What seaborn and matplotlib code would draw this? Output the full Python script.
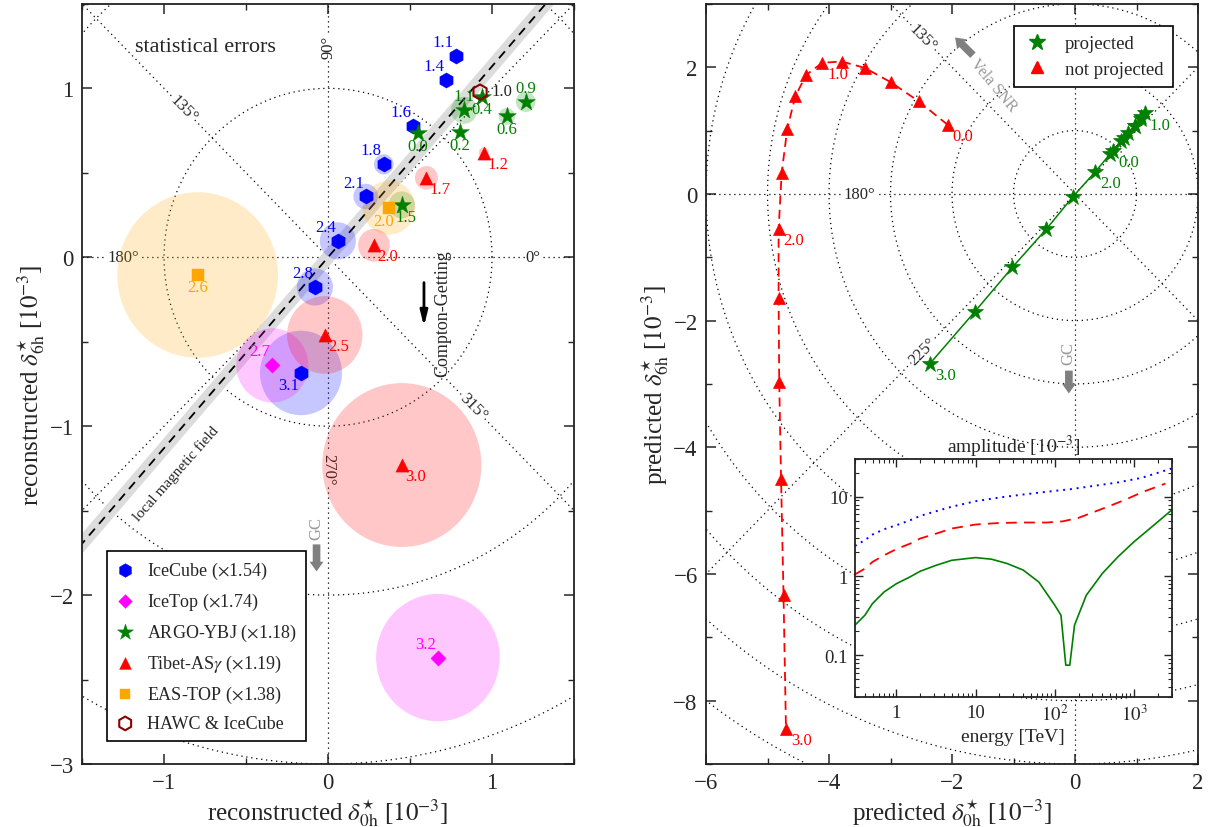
import numpy as np
import pandas as pd
import matplotlib
matplotlib.use("Agg")
import matplotlib.pyplot as plt
import seaborn as sns
from matplotlib.patches import Circle
from matplotlib.lines import Line2D
from matplotlib.ticker import MultipleLocator, FixedLocator, FixedFormatter, NullFormatter, LogLocator

# ---------------- left panel data (reconstructed dipole, 1e-3) ----------------
icecube_lbl = ["1.1", "1.4", "1.6", "1.8", "2.1", "2.4", "2.8", "3.1"]
icecube_x = [0.78, 0.72, 0.52, 0.34, 0.23, 0.06, -0.08, -0.165]
icecube_y = [1.19, 1.05, 0.775, 0.55, 0.36, 0.097, -0.176, -0.685]
icecube_err = [0.02, 0.02, 0.03, 0.06, 0.075, 0.11, 0.11, 0.25]

icetop_lbl = ["2.7", "3.2"]
icetop_x = [-0.34, 0.67]
icetop_y = [-0.64, -2.37]
icetop_err = [0.22, 0.377]

argo_lbl = ["0.0", "0.2", "0.4", "0.6", "0.9", "1.1", "1.5"]
argo_x = [0.547, 0.805, 0.937, 1.09, 1.205, 0.83, 0.45]
argo_y = [0.735, 0.74, 0.95, 0.834, 0.92, 0.87, 0.31]
argo_err = [0.02, 0.02, 0.02, 0.05, 0.06, 0.08, 0.08]

tibet_lbl = ["1.2", "1.7", "2.0", "2.5", "3.0"]
tibet_x = [0.95, 0.60, 0.28, -0.02, 0.45]
tibet_y = [0.62, 0.47, 0.071, -0.46, -1.23]
tibet_err = [0.03, 0.07, 0.097, 0.23, 0.485]

eastop_lbl = ["2.0", "2.6"]
eastop_x = [0.372, -0.795]
eastop_y = [0.294, -0.105]
eastop_err = [0.16, 0.49]

hawc_lbl = ["1.0"]
hawc_x = [0.927]
hawc_y = [0.978]

B_ANGLE = 48.5        # local magnetic field direction [deg]
B_HALFWIDTH = 0.04    # half width of uncertainty band

# ---------------- right panel data (predicted dipole, 1e-3) ----------------
traj_logE = ["0.0", "0.2", "0.4", "0.6", "0.8", "1.0", "1.2", "1.4",
             "1.6", "1.8", "2.0", "2.2", "2.4", "2.6", "2.8", "3.0"]
notproj_x = [-2.07, -2.54, -2.99, -3.42, -3.79, -4.11, -4.37, -4.55,
             -4.68, -4.77, -4.82, -4.82, -4.81, -4.78, -4.74, -4.70]
notproj_y = [1.09, 1.46, 1.76, 1.99, 2.09, 2.07, 1.88, 1.54,
             1.02, 0.33, -0.56, -1.65, -2.97, -4.50, -6.34, -8.45]
proj_x = [0.62, 0.74, 0.86, 0.97, 1.07, 1.13, 1.08, 0.97,
          0.80, 0.57, 0.33, -0.04, -0.47, -1.02, -1.63, -2.36]
proj_y = [0.68, 0.83, 0.96, 1.08, 1.19, 1.27, 1.21, 1.08,
          0.89, 0.63, 0.35, -0.05, -0.56, -1.16, -1.86, -2.68]
traj_labelled = ["0.0", "1.0", "2.0", "3.0"]

# ---------------- inset data (amplitude vs energy) ----------------
blue_E = [0.3, 0.4, 0.5, 0.7, 1, 1.5, 2, 3.2, 5, 10, 20, 40, 80, 160, 320, 630, 1260, 3000]
blue_A = [2.4, 2.84, 3.34, 3.9, 4.38, 5.07, 5.75, 6.6, 7.5, 8.8, 9.8, 10.7, 11.6, 12.5,
          13.8, 15.2, 17.4, 22.8]
red_E = [0.3, 0.4, 0.5, 0.7, 1, 1.5, 2, 3.2, 5, 10, 20, 40, 80, 126, 200, 316, 500, 800,
         1260, 2500]
red_A = [1.05, 1.24, 1.51, 1.83, 2.19, 2.57, 2.98, 3.44, 3.98, 4.47, 4.68, 4.74, 4.74, 4.9,
         5.43, 6.46, 7.7, 9.3, 11.4, 14.7]
green_E = [0.3, 0.4, 0.5, 0.7, 1, 1.5, 2, 3.2, 5, 10, 16, 25, 40, 63, 100, 120, 138, 155,
           178, 250, 400, 630, 1000, 1600, 3000]
green_A = [0.24, 0.32, 0.45, 0.63, 0.80, 0.98, 1.15, 1.37, 1.58, 1.71, 1.63, 1.44, 1.19,
           0.84, 0.43, 0.32, 0.075, 0.075, 0.24, 0.57, 1.08, 1.75, 2.7, 4.0, 6.8]

# ---------------- style ----------------
sns.set_style("ticks")
plt.rcParams["font.family"] = ["Liberation Serif", "DejaVu Serif"]
plt.rcParams["mathtext.fontset"] = "stix"
plt.rcParams["axes.linewidth"] = 1.3
plt.rcParams["axes.edgecolor"] = "#222222"

C_BLUE, C_MAG, C_GREEN, C_RED, C_ORANGE, C_DRED = "#0000ff", "#ff00ff", "#008000", "#ff0000", "#ffa500", "#8b0000"
DOT = (0, (1, 3))
ALPHA = 0.22

fig = plt.figure(figsize=(12.1, 8.28), dpi=100)
axL = fig.add_axes([0.0678, 0.0761, 0.4066, 0.918])
axR = fig.add_axes([0.5835, 0.0761, 0.4066, 0.918])
axI = fig.add_axes([0.7066, 0.1574, 0.2617, 0.287])

ROT = {0: 0, 45: 45, 90: 90, 135: -45, 180: 0, 225: 45, 270: -90, 315: -45}


def polar_grid(ax, radii, rlab, labelled):
    th = np.linspace(0, 2 * np.pi, 1441)
    for r in radii:
        ax.plot(r * np.cos(th), r * np.sin(th), color="k", lw=0.9, ls=DOT, zorder=1)
    for a in range(0, 360, 45):
        t = np.deg2rad(a)
        ax.plot([0, 30 * np.cos(t)], [0, 30 * np.sin(t)], color="k", lw=0.9, ls=DOT, zorder=1)
    for a in labelled:
        t = np.deg2rad(a)
        ax.text(rlab * np.cos(t), rlab * np.sin(t), f"{a}°", rotation=ROT[a],
                ha="center", va="center", fontsize=12, zorder=1.2,
                bbox=dict(fc="white", ec="none", pad=0.5))


def style_ticks(ax, size=16.5):
    ax.tick_params(which="both", direction="in", top=True, right=True, labelsize=size)
    ax.tick_params(which="major", length=7, width=1.1, pad=6)
    ax.tick_params(which="minor", length=4, width=1.0)


# ================= left panel =================
polar_grid(axL, [1, 2, 3], 1.25, [0, 90, 135, 180, 270, 315])

t = np.deg2rad(B_ANGLE)
ux, uy = np.cos(t), np.sin(t)
nx, ny = -uy, ux
L = 4.0
w = B_HALFWIDTH
axL.fill([-L * ux + w * nx, L * ux + w * nx, L * ux - w * nx, -L * ux - w * nx],
         [-L * uy + w * ny, L * uy + w * ny, L * uy - w * ny, -L * uy - w * ny],
         color="#dcdcdc", lw=0, zorder=1.5)
axL.plot([-L * ux, L * ux], [-L * uy, L * uy], color="k", lw=1.3, ls=(0, (5, 3.5)), zorder=1.6)

series = [
    ("IceCube ($\\times$1.54)", icecube_x, icecube_y, icecube_err, icecube_lbl, C_BLUE, "h", 120,
     {"default": (-9, 10), "3.1": (-9, -9)}),
    ("IceTop ($\\times$1.74)", icetop_x, icetop_y, icetop_err, icetop_lbl, C_MAG, "D", 60,
     {"default": (-9, 10)}),
    ("ARGO-YBJ ($\\times$1.18)", argo_x, argo_y, argo_err, argo_lbl, C_GREEN, "*", 180,
     {"default": (0, -9), "0.9": (0, 10), "1.1": (0, 10), "1.5": (3, -9)}),
    ("Tibet-AS$\\gamma$ ($\\times$1.19)", tibet_x, tibet_y, tibet_err, tibet_lbl, C_RED, "^", 90,
     {"default": (10, -8)}),
    ("EAS-TOP ($\\times$1.38)", eastop_x, eastop_y, eastop_err, eastop_lbl, C_ORANGE, "s", 65,
     {"default": (0, -9), "2.0": (-4, -10)}),
]

for name, xs, ys, errs, lbls, col, mk, s, offs in series:
    for x, y, e in zip(xs, ys, errs):
        axL.add_patch(Circle((x, y), e, color=col, alpha=ALPHA, lw=0, zorder=2))
    df = pd.DataFrame({"x": xs, "y": ys})
    sns.scatterplot(data=df, x="x", y="y", ax=axL, marker=mk, s=s, color=col,
                    edgecolor=col, linewidth=0.3, label=name, zorder=3, legend=False)
    for x, y, lb in zip(xs, ys, lbls):
        off = offs.get(lb, offs["default"])
        axL.annotate(lb, (x, y), xytext=off, textcoords="offset points", ha="center",
                     va="center", color=col, fontsize=12, zorder=4)

dfh = pd.DataFrame({"x": hawc_x, "y": hawc_y})
sns.scatterplot(data=dfh, x="x", y="y", ax=axL, marker="h", s=120, facecolor="none",
                edgecolor=C_DRED, linewidth=1.5, label="HAWC & IceCube", zorder=3.5, legend=False)
for x, y, lb in zip(hawc_x, hawc_y, hawc_lbl):
    axL.annotate(lb, (x, y), xytext=(16, 1), textcoords="offset points", ha="center",
                 va="center", color="#222222", fontsize=12, zorder=4)

axL.text(-0.75, 1.25, "statistical errors", fontsize=16, ha="center", va="center")
axL.text(-0.93, -1.275, "local magnetic field", fontsize=11, rotation=B_ANGLE,
         ha="center", va="center", rotation_mode="anchor")
axL.text(0.70, -0.33, "Compton-Getting", fontsize=13, rotation=90, ha="center", va="center")
axL.annotate("", xy=(0.585, -0.41), xytext=(0.585, -0.15),
             arrowprops=dict(arrowstyle="-|>,head_length=0.9,head_width=0.22", lw=2.0,
                             color="k", shrinkA=0, shrinkB=0))
axL.annotate("", xy=(-0.07, -1.86), xytext=(-0.07, -1.70),
             arrowprops=dict(arrowstyle="simple,head_length=0.7,head_width=1.0,tail_width=0.55",
                             color="#808080", lw=0, shrinkA=0, shrinkB=0, mutation_scale=10))
axL.text(-0.07, -1.6, "GC", color="#999999", fontsize=12, rotation=90, ha="center", va="center")

axL.set_xlim(-1.5, 1.5)
axL.set_ylim(-3, 1.5)
axL.xaxis.set_major_locator(MultipleLocator(1))
axL.xaxis.set_minor_locator(MultipleLocator(0.5))
axL.yaxis.set_major_locator(MultipleLocator(1))
axL.yaxis.set_minor_locator(MultipleLocator(0.5))
style_ticks(axL)
axL.set_xlabel("reconstructed $\\delta^{\\star}_{0\\mathrm{h}}$ [$10^{-3}$]", fontsize=18, labelpad=2)
axL.set_ylabel("reconstructed $\\delta^{\\star}_{6\\mathrm{h}}$ [$10^{-3}$]", fontsize=18, labelpad=2)
legL = axL.legend(loc="lower left", bbox_to_anchor=(0.051, 0.030), fontsize=13,
                  frameon=True, fancybox=False, edgecolor="k", framealpha=1,
                  labelspacing=0.55, handletextpad=0.7, borderpad=0.5, handlelength=1.0,
                  borderaxespad=0, markerscale=0.9)
legL.get_frame().set_linewidth(1.2)
legL.set_zorder(10)

# ================= right panel =================
polar_grid(axR, list(range(1, 12)), 3.5, [135, 180, 225])

dproj = pd.DataFrame({"x": proj_x, "y": proj_y})
dnot = pd.DataFrame({"x": notproj_x, "y": notproj_y})
sns.lineplot(data=dproj, x="x", y="y", ax=axR, sort=False, estimator=None, color=C_GREEN,
             lw=1.1, marker="*", markersize=12, markeredgecolor=C_GREEN, markeredgewidth=0.5,
             zorder=3, legend=False)
sns.lineplot(data=dnot, x="x", y="y", ax=axR, sort=False, estimator=None, color=C_RED,
             lw=1.3, linestyle=(0, (5, 3)), marker="^", markersize=8.5, markeredgecolor=C_RED,
             markeredgewidth=0.5, zorder=3, legend=False)
for xs, ys, col in [(proj_x, proj_y, C_GREEN), (notproj_x, notproj_y, C_RED)]:
    for x, y, lb in zip(xs, ys, traj_logE):
        if lb in traj_labelled:
            axR.annotate(lb, (x, y), xytext=(11, -8), textcoords="offset points",
                         ha="center", va="center", color=col, fontsize=12, zorder=4)

axR.annotate("", xy=(-1.95, 2.47), xytext=(-1.66, 2.19),
             arrowprops=dict(arrowstyle="simple,head_length=0.7,head_width=1.0,tail_width=0.55",
                             color="#808080", lw=0, shrinkA=0, shrinkB=0, mutation_scale=10))
axR.text(-1.32, 1.72, "Vela SNR", color="#999999", fontsize=11.5, rotation=-50,
         ha="center", va="center")
axR.annotate("", xy=(-0.1, -3.15), xytext=(-0.1, -2.79),
             arrowprops=dict(arrowstyle="simple,head_length=0.7,head_width=1.0,tail_width=0.55",
                             color="#808080", lw=0, shrinkA=0, shrinkB=0, mutation_scale=10))
axR.text(-0.1, -2.5, "GC", color="#999999", fontsize=12, rotation=90, ha="center", va="center")

axR.set_xlim(-6, 2)
axR.set_ylim(-9, 3)
axR.xaxis.set_major_locator(MultipleLocator(2))
axR.xaxis.set_minor_locator(MultipleLocator(1))
axR.yaxis.set_major_locator(MultipleLocator(2))
axR.yaxis.set_minor_locator(MultipleLocator(1))
style_ticks(axR)
axR.set_xlabel("predicted $\\delta^{\\star}_{0\\mathrm{h}}$ [$10^{-3}$]", fontsize=18, labelpad=2)
axR.set_ylabel("predicted $\\delta^{\\star}_{6\\mathrm{h}}$ [$10^{-3}$]", fontsize=18, labelpad=2)
hR = [Line2D([], [], ls="none", marker="*", ms=12, color=C_GREEN),
      Line2D([], [], ls="none", marker="^", ms=9, color=C_RED)]
legR = axR.legend(hR, ["projected", "not projected"], loc="upper right",
                  bbox_to_anchor=(0.949, 0.971), fontsize=13.5, frameon=True, fancybox=False,
                  edgecolor="k", framealpha=1, handletextpad=0.8, borderpad=0.5,
                  labelspacing=0.45, handlelength=1.4, borderaxespad=0)
legR.get_frame().set_linewidth(1.2)
legR.set_zorder(10)

# ================= inset =================
axI.set_facecolor("white")
sns.lineplot(x=blue_E, y=blue_A, ax=axI, color=C_BLUE, lw=1.4, linestyle=(0, (1, 2.5)),
             sort=False, estimator=None)
sns.lineplot(x=red_E, y=red_A, ax=axI, color=C_RED, lw=1.3, linestyle=(0, (6, 4)),
             sort=False, estimator=None)
sns.lineplot(x=green_E, y=green_A, ax=axI, color=C_GREEN, lw=1.2, sort=False, estimator=None)
axI.set_xscale("log")
axI.set_yscale("log")
axI.set_xlim(0.3, 3000)
axI.set_ylim(0.03, 30)
axI.xaxis.set_major_locator(FixedLocator([1, 10, 100, 1000]))
axI.xaxis.set_major_formatter(FixedFormatter(["1", "10", "$10^2$", "$10^3$"]))
axI.yaxis.set_major_locator(FixedLocator([0.1, 1, 10]))
axI.yaxis.set_major_formatter(FixedFormatter(["0.1", "1", "10"]))
axI.xaxis.set_minor_locator(LogLocator(base=10, subs=np.arange(2, 10), numticks=20))
axI.yaxis.set_minor_locator(LogLocator(base=10, subs=np.arange(2, 10), numticks=20))
axI.xaxis.set_minor_formatter(NullFormatter())
axI.yaxis.set_minor_formatter(NullFormatter())
axI.tick_params(which="both", direction="in", top=True, right=True, labelsize=13.5)
axI.tick_params(which="major", length=6, width=1.0, pad=5)
axI.tick_params(which="minor", length=3, width=0.8)
axI.set_title("amplitude [$10^{-3}$]", fontsize=14, pad=3)
axI.set_xlabel("energy [TeV]", fontsize=14, labelpad=3)
axI.set_ylabel("")
for sp in axI.spines.values():
    sp.set_linewidth(1.3)
    sp.set_visible(True)

fig.savefig("out.png", dpi=100)
